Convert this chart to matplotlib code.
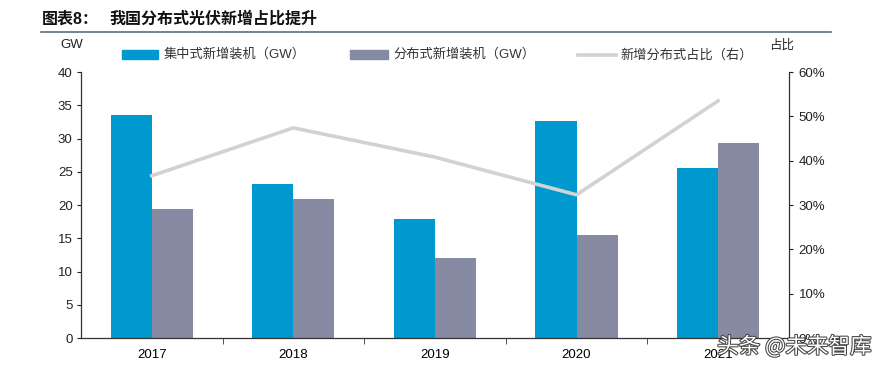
import matplotlib.pyplot as plt
import matplotlib.patheffects as pe
import numpy as np

plt.rcParams['font.family'] = ['Liberation Sans', 'Noto Sans CJK SC', 'DejaVu Sans']

years = ['2017', '2018', '2019', '2020', '2021']
central = [33.5, 23.2, 17.9, 32.6, 25.6]      # 集中式新增装机 (GW)
distributed = [19.4, 20.9, 12.0, 15.5, 29.3]  # 分布式新增装机 (GW)
share = [36.6, 47.4, 40.8, 32.3, 53.5]        # 新增分布式占比 (%)

blue = '#0099CF'
grey = '#868AA3'
line_c = '#D2D2D2'

fig = plt.figure(figsize=(8.82, 3.71), dpi=100)
ax = fig.add_axes([0.0918, 0.0889, 0.8027, 0.717])
ax2 = ax.twinx()

x = np.arange(len(years))
w = 0.29
ax.bar(x - w / 2, central, width=w, color=blue, zorder=2)
ax.bar(x + w / 2, distributed, width=w, color=grey, zorder=2)
ax2.plot(x, share, color=line_c, lw=2.6, zorder=3)

ax.set_xlim(-0.5, len(years) - 0.5)
ax.set_ylim(0, 40)
ax.set_yticks(range(0, 41, 5))
ax2.set_ylim(0, 60)
ax2.set_yticks(range(0, 61, 10))
ax2.set_yticklabels([f'{v}%' for v in range(0, 61, 10)])

ax.set_xticks(x)
ax.set_xticklabels(years)
ax.set_xticks(np.arange(0.5, len(years) - 0.5, 1), minor=True)
ax.tick_params(axis='x', which='major', length=0, pad=8, labelsize=9.5)
ax.tick_params(axis='x', which='minor', length=4, direction='out', color='#333333')
ax.tick_params(axis='y', length=3, labelsize=9.5, colors='#222222', pad=3)
ax2.tick_params(axis='y', length=3, labelsize=9.5, colors='#222222', pad=4)

for a in (ax, ax2):
    a.spines['top'].set_visible(False)
    for s in ('left', 'right', 'bottom'):
        a.spines[s].set_color('#333333')
        a.spines[s].set_linewidth(0.9)
ax.spines['right'].set_visible(False)
ax2.spines['left'].set_visible(False)
ax2.spines['bottom'].set_visible(False)

# title and rule
fig.text(0.047, 0.948, '图表8：', fontsize=11.5, fontweight='bold',
         color='#111111', va='center', ha='left')
fig.text(0.124, 0.948, '我国分布式光伏新增占比提升', fontsize=11.5, fontweight='bold',
         color='#111111', va='center', ha='left')
fig.add_artist(plt.Line2D([0.046, 0.942], [0.915, 0.915], color='#5A7080', lw=1.2))

fig.text(0.068, 0.878, 'GW', fontsize=9.5, color='#222222', va='center')
fig.text(0.872, 0.878, '占比', fontsize=9, color='#222222', va='center')

# legend
ly = 0.852
fig.add_artist(plt.Rectangle((0.138, ly - 0.012), 0.041, 0.024, color=blue, transform=fig.transFigure))
fig.text(0.185, ly, '集中式新增装机（GW）', fontsize=9.5, color='#333333', va='center')
fig.add_artist(plt.Rectangle((0.397, ly - 0.012), 0.043, 0.024, color=grey, transform=fig.transFigure))
fig.text(0.446, ly, '分布式新增装机（GW）', fontsize=9.5, color='#333333', va='center')
fig.add_artist(plt.Line2D([0.655, 0.698], [ly, ly], color=line_c, lw=2.6))
fig.text(0.703, ly, '新增分布式占比（右）', fontsize=9.5, color='#333333', va='center')

# watermark
fig.text(0.988, 0.035, '头条 @未来智库', fontsize=15.5, color='white', ha='right', va='bottom',
         family=['Noto Sans CJK SC', 'DejaVu Sans'],
         path_effects=[pe.withStroke(linewidth=1.5, foreground='#444444')])

fig.savefig('out.png', dpi=100)
